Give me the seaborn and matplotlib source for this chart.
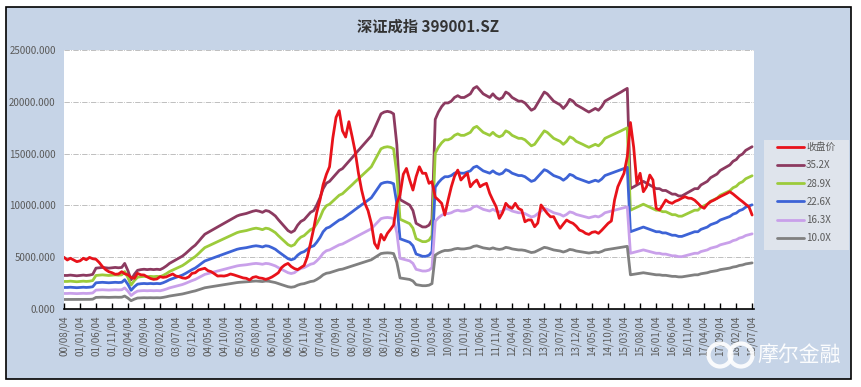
import numpy as np
import pandas as pd
import matplotlib.pyplot as plt
import seaborn as sns
from matplotlib.lines import Line2D
from matplotlib.patches import Rectangle, Circle

# Monthly points from 2000-08 to 2018-07 (day 04 of each month)
START_MONTH = "2000-08-01"

# 收盘价, one row per calendar year
close_price = [
    4990, 4730, 4900, 4730, 4570,                                          # 2000
    4650, 4900, 4750, 4980, 4850, 4800, 4500, 4100, 3800, 3600, 3500, 3350,  # 2001
    3380, 3600, 3400, 3300, 3050, 2960, 3440, 3300, 3280, 3100, 2950, 2860,  # 2002
    2900, 3120, 3050, 3100, 3250, 3380, 3180, 3120, 3000, 2960, 3100, 3440,  # 2003
    3500, 3760, 3850, 3930, 3700, 3600, 3400, 3180, 3200, 3180, 3250, 3380,  # 2004
    3300, 3200, 3120, 3000, 2960, 2800, 3050, 3120, 3000, 2960, 2860, 2950,  # 2005
    3100, 3300, 3500, 4000, 4250, 4400, 4100, 3900, 3800, 4000, 4200, 5000,  # 2006
    6340, 7800, 9300, 10520, 12000, 13000, 13730, 16500, 18500, 19140, 17200, 16600,  # 2007
    18080, 16630, 15180, 13100, 11480, 10200, 9500, 8270, 6340, 5850, 7200, 6660,  # 2008
    7300, 7700, 8100, 10200, 11000, 13000, 13570, 12450, 11480, 12770, 13730, 13100,  # 2009
    13100, 12130, 12300, 10800, 10520, 10200, 9070, 10500, 11800, 12800, 13410, 12450,  # 2010
    12800, 13100, 11800, 12200, 12450, 11800, 12000, 12130, 11160, 10500, 9870, 8750,  # 2011
    9300, 10200, 9870, 9720, 10200, 9700, 9550, 8420, 8600, 8590, 7940, 8300,  # 2012
    10040, 9600, 9230, 8900, 8910, 8300, 7790, 8200, 8590, 8400, 8270, 8000,  # 2013
    7620, 7500, 7300, 7200, 7400, 7460, 7300, 7600, 7940, 8270, 8500, 10520,  # 2014
    11800, 12500, 13100, 14700, 18000, 15600, 12130, 13100, 11320, 11800, 12930, 12450,  # 2015
    9720, 9550, 10000, 10520, 10300, 10200, 10400, 10520, 10700, 10840, 10700, 10680,  # 2016
    10500, 10200, 9900, 9720, 10100, 10360, 10500, 10680, 10850, 11000, 11150, 11320,  # 2017
    11100, 10840, 10600, 10360, 10100, 9870, 9070,                           # 2018
]

# 10.0X band (= 10 x trailing EPS)
band_10x = [
    920, 920, 930, 920, 910,                                                # 2000
    920, 930, 920, 930, 950, 1120, 1130, 1140, 1130, 1120, 1130, 1140,      # 2001
    1130, 1140, 1250, 1050, 800, 950, 1060, 1080, 1090, 1080, 1090, 1080,   # 2002
    1090, 1080, 1120, 1180, 1250, 1300, 1350, 1400, 1450, 1520, 1600, 1680,  # 2003
    1750, 1850, 1950, 2050, 2100, 2150, 2200, 2250, 2300, 2350, 2400, 2450,  # 2004
    2500, 2550, 2580, 2600, 2620, 2650, 2680, 2700, 2680, 2650, 2700, 2680,  # 2005
    2620, 2550, 2450, 2350, 2250, 2150, 2100, 2150, 2300, 2400, 2450, 2550,  # 2006
    2650, 2700, 2850, 3050, 3300, 3450, 3500, 3600, 3700, 3800, 3850, 3950,  # 2007
    4050, 4150, 4250, 4350, 4450, 4550, 4650, 4750, 4950, 5150, 5350, 5400,  # 2008
    5420, 5400, 5350, 4500, 3000, 2950, 2900, 2850, 2700, 2350, 2300, 2250,  # 2009
    2250, 2300, 2450, 5200, 5400, 5550, 5650, 5650, 5700, 5800, 5850, 5800,  # 2010
    5800, 5850, 5900, 6050, 6100, 6000, 5900, 5850, 5800, 5900, 5800, 5750,  # 2011
    5800, 5950, 5900, 5800, 5750, 5700, 5700, 5650, 5550, 5450, 5500, 5650,  # 2012
    5800, 5950, 5900, 5800, 5700, 5650, 5600, 5500, 5600, 5750, 5700, 5600,  # 2013
    5550, 5500, 5450, 5400, 5450, 5500, 5450, 5550, 5700, 5750, 5800, 5850,  # 2014
    5900, 5950, 6000, 6050, 3300, 3350, 3400, 3450, 3500, 3450, 3400, 3350,  # 2015
    3300, 3300, 3250, 3250, 3200, 3150, 3150, 3100, 3100, 3150, 3200, 3250,  # 2016
    3300, 3300, 3400, 3450, 3500, 3600, 3650, 3700, 3800, 3850, 3900, 3950,  # 2017
    4050, 4100, 4200, 4250, 4350, 4400, 4450,                               # 2018
]

pe_levels = [35.2, 28.9, 22.6, 16.3, 10.0]
band_labels = ["35.2X", "28.9X", "22.6X", "16.3X", "10.0X"]
band_colors = ["#8c3a60", "#9ccb3b", "#3d63d6", "#c9a0ea", "#808080"]
close_label = "收盘价"
close_color = "#e8121a"

y_ticks = [0, 5000, 10000, 15000, 20000, 25000]

# ---- build data frames ----
dates = pd.date_range(START_MONTH, periods=len(close_price), freq="MS") + pd.Timedelta(days=3)
close_df = pd.DataFrame({"date": dates, "value": close_price})
base = np.array(band_10x, dtype=float) / 10.0
band_df = pd.concat(
    [pd.DataFrame({"date": dates, "value": base * pe, "series": name})
     for pe, name in zip(pe_levels, band_labels)],
    ignore_index=True,
)

# ---- figure ----
sns.set_theme(style="white")
plt.rcParams["font.family"] = ["Noto Sans CJK SC", "DejaVu Sans"]

W, H = 861, 387
LW = 2.0
fig = plt.figure(figsize=(W / 100, H / 100), dpi=100)
fig.patch.set_facecolor("white")

# outer chart area with black border
fig.patches.append(Rectangle((6 / W, 1 - 379 / H), 845 / W, 372 / H, transform=fig.transFigure,
                             facecolor="#c6d4e7", edgecolor="black", lw=1.2, zorder=-10))
# legend panel
fig.patches.append(Rectangle((764 / W, 1 - 250 / H), 85 / W, 110 / H, transform=fig.transFigure,
                             facecolor="#dfe4ec", edgecolor="none", zorder=-5))

ax = fig.add_axes([64 / W, 1 - 309 / H, 690 / W, 259 / H])
ax.set_facecolor("white")

sns.lineplot(data=band_df, x="date", y="value", hue="series", hue_order=band_labels,
             palette=dict(zip(band_labels, band_colors)), lw=LW, legend=False,
             estimator=None, ax=ax)
sns.lineplot(data=close_df, x="date", y="value", color=close_color, lw=LW,
             estimator=None, ax=ax)

ax.set_xlim(dates[0], dates[-1] + pd.Timedelta(days=18))
ax.set_ylim(0, 25000)
ax.set_yticks(y_ticks)
ax.set_yticklabels([f"{v:.3f}" for v in y_ticks], fontsize=7, color="#5a5a5a")
tick_dates = dates[::5]
ax.set_xticks(tick_dates)
ax.set_xticklabels([d.strftime("%y/%m/%d") for d in tick_dates], rotation=90,
                   fontsize=7, color="#5a5a5a")
ax.tick_params(axis="y", length=0, pad=6)
ax.tick_params(axis="x", direction="in", length=4, width=1, color="black", pad=5,
               bottom=True)
ax.set_xlabel("")
ax.set_ylabel("")

ax.grid(axis="y", linestyle="-.", color="#b4b4b4", lw=0.6)
for side in ["left", "right", "top"]:
    ax.spines[side].set_visible(False)
ax.spines["bottom"].set_color("black")
ax.spines["bottom"].set_linewidth(1.2)

# title
fig.text(428 / W, 1 - 27 / H, "深证成指 399001.SZ", ha="center", va="center",
         fontsize=11, fontweight="bold", color="#333333")

# legend
handles = [Line2D([], [], color=close_color, lw=LW)]
handles += [Line2D([], [], color=c, lw=LW) for c in band_colors]
fig.legend(handles, [close_label] + band_labels, loc="upper left",
           bbox_to_anchor=(777 / W, 1 - 142 / H), frameon=False, fontsize=7,
           handlelength=2.8, handletextpad=0.2, labelspacing=0.85,
           borderpad=0, borderaxespad=0, labelcolor="#5a5a5a")

# watermark logo (two rings) and name
for cx in (720, 741):
    fig.patches.append(Circle((cx / 100, (H - 355) / 100), 0.115,
                              transform=fig.dpi_scale_trans, facecolor="none",
                              edgecolor="white", lw=3, alpha=0.9, zorder=5))
fig.text(757 / W, 1 - 355 / H, "摩尔金融", ha="left", va="center", fontsize=15,
         color="white", alpha=0.95, zorder=6)

fig.savefig("out.png", dpi=100)
